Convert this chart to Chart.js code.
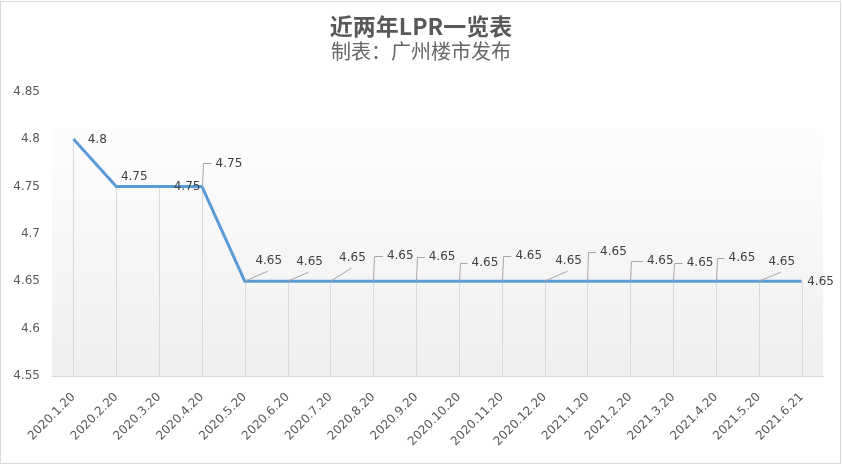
<!DOCTYPE html>
<html>
<head>
<meta charset="utf-8">
<script src="https://cdn.jsdelivr.net/npm/chart.js@4.4.1/dist/chart.umd.min.js"></script>
<style>
  html, body { margin: 0; padding: 0; background: #ffffff; }
  #wrap { width: 842px; height: 465px; }
</style>
</head>
<body>
<div id="wrap"><canvas id="c" width="842" height="465"></canvas></div>
<script>
// ---- data ----
const categories = ['2020.1.20','2020.2.20','2020.3.20','2020.4.20','2020.5.20','2020.6.20','2020.7.20','2020.8.20','2020.9.20','2020.10.20','2020.11.20','2020.12.20','2021.1.20','2021.2.20','2021.3.20','2021.4.20','2021.5.20','2021.6.21'];
const lprValues = [4.8, 4.75, 4.75, 4.75, 4.65, 4.65, 4.65, 4.65, 4.65, 4.65, 4.65, 4.65, 4.65, 4.65, 4.65, 4.65, 4.65, 4.65];
const yTicks = [4.55, 4.6, 4.65, 4.7, 4.75, 4.8, 4.85];
const titleText = '近两年LPR一览表';
const subtitleText = '制表：广州楼市发布';

// ---- label placement style (offset of label centre from its point, leader type) ----
const labelStyle = [
  [24, 1, 'none'], [18, -10, 'none'], [28, 0, 'none'], [27, -23, 'elbow'],
  [24, -20, 'slant'], [22, -19, 'slant'], [22, -23, 'slant'], [27, -25, 'elbow'],
  [26, -24, 'elbow'], [26, -18, 'elbow'], [27, -25, 'elbow'], [24, -20, 'slant'],
  [26, -29, 'elbow'], [30, -20, 'elbow'], [27, -18, 'elbow'], [26, -23, 'elbow'],
  [23, -19, 'slant'], [19, 1, 'none']
];

const labelFont = '12px "DejaVu Sans", sans-serif';

const bgPlugin = {
  id: 'bgPlugin',
  beforeDraw(chart) {
    const { ctx, chartArea } = chart;
    const top = chartArea.top + 37;
    const g = ctx.createLinearGradient(0, top, 0, chartArea.bottom);
    g.addColorStop(0, '#fdfdfd');
    g.addColorStop(1, '#efefef');
    ctx.save();
    ctx.fillStyle = g;
    ctx.fillRect(chartArea.left, top, chartArea.right - chartArea.left, chartArea.bottom - top);
    ctx.restore();
  },
  afterDraw(chart) {
    const ctx = chart.ctx;
    ctx.save();
    ctx.strokeStyle = '#d9d9d9';
    ctx.lineWidth = 1;
    ctx.strokeRect(0.5, 1.5, 840, 462);
    ctx.restore();
  }
};

const dropLines = {
  id: 'dropLines',
  beforeDatasetsDraw(chart) {
    const { ctx, chartArea } = chart;
    const meta = chart.getDatasetMeta(0);
    ctx.save();
    ctx.strokeStyle = '#d9d9d9';
    ctx.lineWidth = 1;
    meta.data.forEach(pt => {
      const x = Math.round(pt.x) + 0.5;
      ctx.beginPath();
      ctx.moveTo(x, pt.y);
      ctx.lineTo(x, chartArea.bottom);
      ctx.stroke();
    });
    ctx.restore();
  }
};

const dataLabels = {
  id: 'dataLabels',
  afterDatasetsDraw(chart) {
    const ctx = chart.ctx;
    const meta = chart.getDatasetMeta(0);
    const ds = chart.data.datasets[0].data;
    ctx.save();
    ctx.font = labelFont;
    ctx.textBaseline = 'middle';
    ctx.textAlign = 'center';
    meta.data.forEach((pt, i) => {
      const st = labelStyle[i] || [20, -20, 'none'];
      const cx = pt.x + st[0];
      const cy = pt.y + st[1];
      const txt = String(ds[i]);
      const w = ctx.measureText(txt).width;
      ctx.strokeStyle = '#a6a6a6';
      ctx.lineWidth = 1;
      if (st[2] === 'elbow') {
        const x = Math.round(pt.x) + 0.5;
        const y = Math.round(cy) + 0.5;
        ctx.beginPath();
        ctx.moveTo(x, pt.y);
        ctx.lineTo(x + 1, y);
        ctx.lineTo(cx - w / 2 - 4, y);
        ctx.stroke();
      } else if (st[2] === 'slant') {
        ctx.beginPath();
        ctx.moveTo(pt.x, pt.y);
        ctx.lineTo(cx - 1, cy + 10);
        ctx.stroke();
      }
      ctx.fillStyle = '#404040';
      ctx.fillText(txt, cx, cy);
    });
    ctx.restore();
  }
};

new Chart(document.getElementById('c'), {
  type: 'line',
  data: {
    labels: categories,
    datasets: [{
      data: lprValues,
      borderColor: '#5b9bd5',
      borderWidth: 3,
      pointRadius: 0,
      pointHoverRadius: 0,
      tension: 0,
      fill: false
    }]
  },
  options: {
    responsive: false,
    animation: false,
    devicePixelRatio: 1,
    layout: { padding: { left: 0, right: 0, top: 0, bottom: 0 } },
    plugins: {
      legend: { display: false },
      tooltip: { enabled: false },
      title: {
        display: true,
        text: titleText,
        color: '#595959',
        font: { family: '"Noto Sans CJK SC", sans-serif', size: 23, weight: 'bold' },
        padding: { top: 12, bottom: 0 }
      },
      subtitle: {
        display: true,
        text: subtitleText,
        color: '#666666',
        font: { family: '"Noto Sans CJK SC", sans-serif', size: 20, weight: 'normal' },
        padding: { top: 0, bottom: 28 }
      }
    },
    scales: {
      x: {
        type: 'category',
        offset: true,
        grid: { display: false },
        border: { display: true, color: '#d9d9d9', width: 1 },
        ticks: {
          color: '#595959',
          font: { family: '"DejaVu Sans", sans-serif', size: 12 },
          minRotation: 45,
          maxRotation: 45,
          autoSkip: false,
          padding: 6
        },
        afterFit(scale) { scale.height = 89; }
      },
      y: {
        type: 'linear',
        min: yTicks[0],
        max: yTicks[yTicks.length - 1],
        grid: { display: false, drawTicks: false },
        border: { display: false },
        afterBuildTicks(scale) { scale.ticks = yTicks.map(v => ({ value: v })); },
        ticks: {
          color: '#595959',
          font: { family: '"DejaVu Sans", sans-serif', size: 12 },
          padding: 12,
          callback: v => String(Math.round(v * 100) / 100)
        },
        afterFit(scale) { scale.width = 52; }
      },
      yRightSpace: {
        type: 'linear',
        position: 'right',
        display: true,
        grid: { display: false, drawTicks: false },
        border: { display: false },
        ticks: { display: false },
        afterFit(scale) { scale.width = 19; }
      }
    }
  },
  plugins: [bgPlugin, dropLines, dataLabels]
});
</script>
</body>
</html>
